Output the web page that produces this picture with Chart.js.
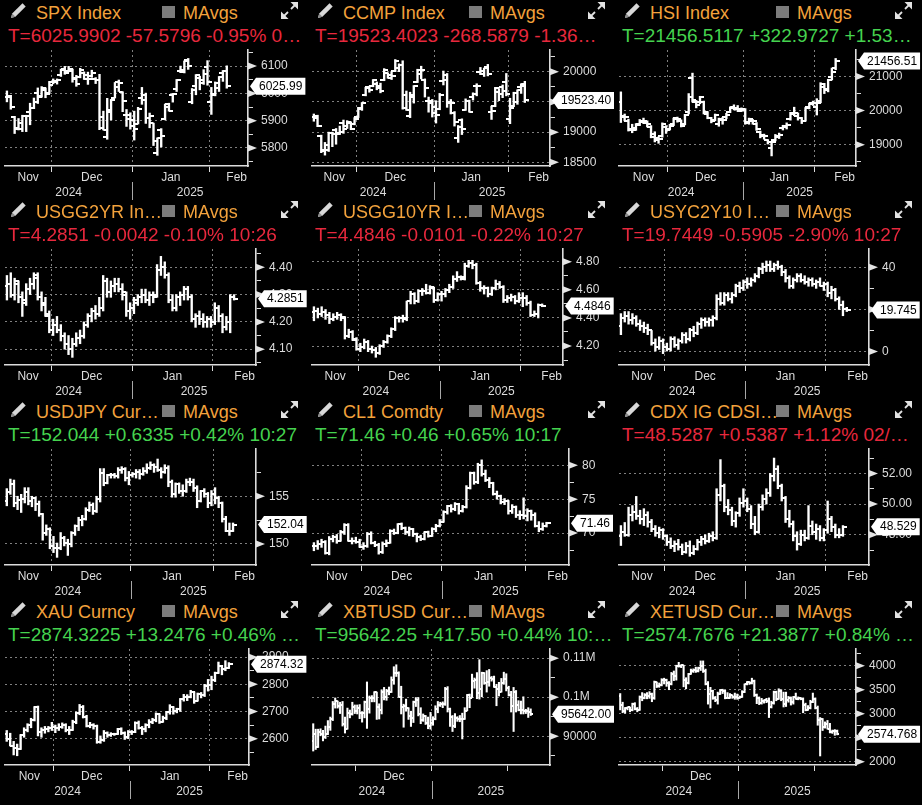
<!DOCTYPE html>
<html>
<head>
<meta charset="utf-8">
<script src="https://cdn.jsdelivr.net/npm/chart.js@4.4.1/dist/chart.umd.min.js"></script>
<style>
html, body { margin: 0; padding: 0; background: #000; width: 922px; height: 805px; overflow: hidden; font-family: "Liberation Sans", Arial, sans-serif; }
.panel { position: absolute; width: 307px; height: 200px; }
.pencil { position: absolute; left: 9px; top: 1px; }
.title { position: absolute; left: 36px; top: 2px; font-size: 18px; line-height: 22px; color: #f3a23c; white-space: nowrap; }
.sq { position: absolute; left: 162px; top: 6px; width: 13px; height: 12px; background: #7c7c7c; }
.mavg { position: absolute; left: 183px; top: 2px; font-size: 18px; line-height: 22px; color: #f3a23c; }
.expand { position: absolute; left: 280px; top: 1px; }
.quote { position: absolute; left: 8px; top: 24px; font-size: 19px; line-height: 23px; white-space: nowrap; }
.quote.dn { color: #e8283d; }
.quote.up { color: #45d34f; }
canvas { position: absolute; left: 0; top: 45px; }
</style>
</head>
<body>
<script>
// header texts
const titles = ['SPX Index', 'CCMP Index', 'HSI Index', 'USGG2YR In…', 'USGG10YR I…', 'USYC2Y10 I…',
  'USDJPY Cur…', 'CL1 Comdty', 'CDX IG CDSI…', 'XAU Curncy', 'XBTUSD Cur…', 'XETUSD Cur…'];
const quotes = ['T=6025.9902 -57.5796 -0.95% 0…', 'T=19523.4023 -268.5879 -1.36…', 'T=21456.5117 +322.9727 +1.53…',
  'T=4.2851 -0.0042 -0.10% 10:26', 'T=4.4846 -0.0101 -0.22% 10:27', 'T=19.7449 -0.5905 -2.90% 10:27',
  'T=152.044 +0.6335 +0.42% 10:27', 'T=71.46 +0.46 +0.65% 10:17', 'T=48.5287 +0.5387 +1.12% 02/…',
  'T=2874.3225 +13.2476 +0.46% …', 'T=95642.25 +417.50 +0.44% 10:…', 'T=2574.7676 +21.3877 +0.84% …'];
const quoteUp = [false, false, true, false, false, false, true, true, false, true, true, true];
const lastLabels = ['6025.99', '19523.40', '21456.51', '4.2851', '4.4846', '19.745', '152.04', '71.46', '48.529', '2874.32', '95642.00', '2574.768'];

// x axis: bars per month (Nov, Dec, Jan, Feb) and month labels
const monthCounts = [[12,21,20,5],[12,21,20,5],[13,20,19,6],[12,21,21,6],[12,21,21,6],[12,21,21,6],
  [13,22,23,6],[13,21,22,6],[12,21,21,5],[14,22,23,6],[18,31,31,10],[18,31,31,10]];
const stdMonths = ['Nov', 'Dec', 'Jan', 'Feb'];
const cryptoMonths = ['', 'Dec', '', ''];
const yearLabels = ['2024', '2025'];

// y axis ranges and ticks
const yMins = [5734, 18440, 18374, 4.042, 4.065, -6.4, 147.8, 65.3, 46.03, 2503, 82620, 1932];
const yMaxs = [6159, 20358, 21779, 4.467, 4.891, 48.7, 159.95, 82.4, 53.59, 2930, 112340, 4348];
const yMinor = [50, 250, 500, 0.05, 0.1, 10, 2.5, 2.5, 1, 50, 5000, 250];
const yMajor = [100, 500, 1000, 0.1, 0.2, 20, 5, 5, 2, 100, 10000, 500];
const yDec = [0, 0, 0, 2, 2, 0, 0, 0, 2, 0, 0, 0];

// OHLC bars [open, high, low, close]
const spxBars = [
[5985,6009,5969,5985],[5989,5993,5942,5949],[5913,5916,5853,5870],[5874,5908,5866,5893],[5870,5920,5860,5917],[5917,5920,5860,5917],[5931,5964,5885,5948],[5947,5983,5944,5969],[6000,6020,5963,5987],[5992,6025,5986,6021],[6014,6020,5984,5998],[6003,6044,6003,6032],
[6040,6053,6035,6047],[6042,6053,6034,6050],[6069,6089,6062,6086],[6089,6099,6070,6075],[6081,6099,6079,6090],[6083,6089,6041,6053],[6057,6066,6026,6034],[6060,6092,6057,6085],[6075,6079,6051,6051],[6068,6078,6033,6051],[6063,6085,6059,6074],[6052,6058,6036,6050],[6048,6070,5867,5872],[5913,5935,5866,5867],[5842,5982,5832,5931],[5941,5978,5903,5975],[5984,6040,5983,6040],[6024,6049,6007,6037],[6006,6006,5933,5971],[5920,5941,5879,5907],[5920,5929,5869,5882],
[5903,5935,5829,5869],[5888,5949,5888,5942],[5982,6022,5960,5975],[5994,6001,5890,5909],[5911,5928,5874,5918],[5890,5891,5809,5827],[5783,5837,5773,5836],[5865,5871,5804,5843],[5905,5961,5903,5950],[5962,5964,5935,5937],[5995,6000,5968,5997],[6015,6051,6007,6049],[6081,6100,6076,6086],[6077,6119,6075,6119],[6121,6128,6088,6101],[5969,6018,5962,6012],[6026,6069,5995,6068],[6058,6063,6013,6039],[6050,6087,6033,6071],[6096,6120,6030,6041],
[5969,6022,5923,5994],[5998,6042,5991,6037],[6021,6062,6007,6061],[6073,6084,6044,6083],[6083,6101,6019,6025.99]
];
const ccmpBars = [
[19250,19300,19180,19231],[19260,19280,19090,19107],[18930,18950,18660,18680],[18700,18830,18620,18791],[18700,19000,18680,18987],[18990,19000,18760,18966],[19030,19060,18800,18972],[18990,19100,18960,19003],[19150,19200,18980,19054],[19100,19190,19060,19175],[19150,19170,19040,19060],[19130,19240,19120,19218],
[19250,19410,19240,19403],[19380,19490,19360,19481],[19620,19740,19600,19735],[19740,19760,19660,19700],[19760,19870,19750,19860],[19800,19830,19700,19736],[19760,19810,19650,19687],[19860,20050,19850,20034],[19970,19980,19890,19902],[19950,20000,19870,19926],[20010,20200,20000,20173],[20060,20130,20000,20109],[20110,20180,19380,19393],[19620,19680,19360,19372],[19260,19660,19240,19573],[19610,19770,19480,19764],[19830,20040,19820,20031],[19960,20090,19880,20020],[19870,19880,19580,19722],[19510,19580,19330,19487],[19510,19540,19250,19311],
[19420,19520,19150,19280],[19380,19640,19370,19622],[19850,20010,19780,19865],[19940,19970,19410,19490],[19480,19540,19300,19479],[19310,19340,19100,19162],[18900,19110,18830,19088],[19200,19220,18960,19044],[19370,19550,19360,19511],[19520,19530,19330,19339],[19580,19650,19530,19630],[19760,19800,19600,19757],[20000,20070,19950,20009],[19960,20060,19920,20053],[20070,20120,19930,19954],[19340,19430,19210,19342],[19440,19740,19420,19734],[19660,19720,19520,19632],[19740,19780,19570,19681],[19830,19970,19600,19627],
[19220,19560,19140,19391],[19430,19660,19420,19654],[19500,19700,19460,19692],[19740,19800,19640,19791],[19770,19840,19490,19523.4]
];
const hsiBars = [
[20250,20550,19650,19846],[19800,19900,19700,19823],[19700,19750,19400,19435],[19450,19600,19350,19426],[19500,19620,19420,19576],[19620,19740,19560,19663],[19690,19780,19620,19705],[19650,19700,19520,19601],[19520,19560,19200,19230],[19320,19380,19080,19151],[19200,19230,19040,19159],[19250,19640,19220,19603],[19520,19560,19330,19424],
[19460,19600,19430,19550],[19600,19780,19560,19746],[19770,19810,19660,19742],[19700,19730,19520,19560],[19600,19890,19580,19865],[19950,20500,19900,20414],[20950,21100,20250,20311],[20240,20300,20080,20155],[20250,20420,20200,20397],[20250,20280,19900,19971],[19900,19970,19760,19796],[19780,19800,19640,19700],[19720,19900,19700,19864],[19600,19780,19540,19752],[19720,19800,19600,19720],[19800,19920,19760,19883],[19960,20110,19940,20098],[20080,20170,20020,20090],[20040,20150,19980,20041],[20000,20080,19970,20060],
[20010,20060,19600,19623],[19660,19780,19600,19760],[19700,19740,19600,19688],[19620,19650,19420,19447],[19360,19400,19200,19280],[19250,19310,19160,19240],[19130,19150,19020,19064],[18900,19090,18670,19086],[19150,19300,19110,19219],[19260,19340,19180,19286],[19500,19570,19430,19522],[19550,19640,19460,19584],[19750,19950,19720,19926],[19900,20100,19850,19925],[19850,19930,19720,19778],[19780,19800,19620,19700],[19700,20090,19690,20066],[20100,20220,20050,20197],[20210,20280,20150,20225],
[20100,20350,19870,20217],[20280,20820,20230,20790],[20680,20800,20500,20597],[20630,20920,20550,20891],[21000,21250,20900,21133],[21250,21530,21200,21456.51]
];
const usgg2Bars = [
[4.33,4.37,4.28,4.34],[4.34,4.38,4.29,4.30],[4.30,4.36,4.28,4.35],[4.34,4.35,4.27,4.29],[4.29,4.31,4.22,4.27],[4.28,4.34,4.26,4.32],[4.32,4.36,4.30,4.34],[4.34,4.38,4.32,4.37],[4.36,4.38,4.28,4.29],[4.29,4.31,4.24,4.27],[4.26,4.29,4.22,4.23],[4.22,4.24,4.16,4.17],
[4.17,4.21,4.15,4.19],[4.19,4.22,4.16,4.17],[4.17,4.19,4.13,4.15],[4.15,4.16,4.10,4.12],[4.12,4.15,4.08,4.10],[4.10,4.14,4.07,4.12],[4.12,4.16,4.11,4.14],[4.14,4.17,4.12,4.15],[4.15,4.20,4.14,4.19],[4.19,4.23,4.18,4.22],[4.22,4.25,4.20,4.24],[4.24,4.26,4.21,4.23],[4.23,4.29,4.22,4.25],[4.25,4.37,4.24,4.35],[4.35,4.36,4.29,4.31],[4.31,4.35,4.29,4.33],[4.33,4.36,4.31,4.34],[4.34,4.36,4.31,4.32],[4.32,4.34,4.28,4.31],[4.30,4.31,4.22,4.24],[4.24,4.27,4.21,4.25],
[4.25,4.29,4.23,4.28],[4.27,4.30,4.26,4.29],[4.29,4.32,4.27,4.30],[4.30,4.32,4.27,4.28],[4.28,4.31,4.26,4.30],[4.30,4.31,4.27,4.29],[4.30,4.41,4.29,4.39],[4.39,4.44,4.37,4.40],[4.40,4.42,4.36,4.37],[4.37,4.38,4.27,4.28],[4.28,4.30,4.24,4.25],[4.25,4.30,4.24,4.29],[4.29,4.31,4.26,4.30],[4.30,4.33,4.28,4.32],[4.32,4.33,4.28,4.29],[4.29,4.30,4.20,4.21],[4.21,4.23,4.18,4.22],[4.22,4.24,4.19,4.21],[4.21,4.23,4.18,4.20],[4.20,4.22,4.18,4.21],[4.21,4.22,4.18,4.20],
[4.20,4.27,4.19,4.25],[4.25,4.26,4.20,4.22],[4.22,4.23,4.16,4.18],[4.18,4.22,4.17,4.20],[4.20,4.30,4.16,4.29],[4.29,4.30,4.28,4.2851]
];
const usgg10Bars = [
[4.44,4.48,4.38,4.45],[4.45,4.47,4.40,4.43],[4.43,4.48,4.41,4.44],[4.44,4.46,4.39,4.42],[4.42,4.44,4.36,4.39],[4.39,4.43,4.38,4.41],[4.41,4.44,4.39,4.42],[4.42,4.43,4.38,4.41],[4.40,4.41,4.25,4.27],[4.27,4.32,4.26,4.30],[4.30,4.31,4.24,4.25],[4.24,4.26,4.17,4.18],
[4.18,4.22,4.16,4.19],[4.19,4.25,4.18,4.23],[4.23,4.24,4.16,4.18],[4.18,4.20,4.15,4.17],[4.17,4.19,4.12,4.15],[4.15,4.21,4.14,4.20],[4.20,4.24,4.19,4.23],[4.23,4.28,4.22,4.27],[4.27,4.33,4.26,4.32],[4.32,4.41,4.31,4.40],[4.40,4.41,4.37,4.40],[4.40,4.42,4.37,4.40],[4.39,4.52,4.38,4.52],[4.52,4.59,4.50,4.57],[4.57,4.58,4.50,4.52],[4.52,4.60,4.51,4.59],[4.59,4.61,4.56,4.59],[4.59,4.64,4.57,4.58],[4.58,4.63,4.57,4.62],[4.61,4.62,4.51,4.53],[4.53,4.58,4.52,4.57],
[4.57,4.59,4.52,4.57],[4.57,4.61,4.55,4.60],[4.60,4.64,4.58,4.62],[4.62,4.70,4.61,4.68],[4.68,4.73,4.66,4.69],[4.69,4.70,4.67,4.69],[4.68,4.79,4.67,4.77],[4.77,4.81,4.76,4.79],[4.79,4.81,4.75,4.78],[4.78,4.79,4.64,4.65],[4.65,4.66,4.59,4.61],[4.61,4.63,4.57,4.61],[4.61,4.62,4.55,4.57],[4.57,4.62,4.56,4.61],[4.61,4.67,4.60,4.64],[4.64,4.66,4.61,4.62],[4.62,4.63,4.51,4.53],[4.53,4.56,4.51,4.54],[4.54,4.57,4.52,4.55],[4.55,4.56,4.50,4.52],[4.52,4.58,4.51,4.54],
[4.54,4.58,4.48,4.54],[4.54,4.56,4.49,4.51],[4.51,4.52,4.41,4.42],[4.42,4.45,4.41,4.43],[4.43,4.50,4.40,4.49],[4.49,4.50,4.48,4.4846]
];
const usycBars = [
[12,18,8,16],[16,19,14,17],[17,19,13,15],[15,18,13,16],[16,17,12,13],[13,15,10,12],[12,14,9,11],[11,13,8,10],[10,10,3,4],[4,6,0,2],[2,7,1,5],[5,6,-1,2],
[2,4,0,1],[1,7,0,6],[6,7,2,3],[3,6,1,5],[5,9,4,8],[8,9,4,6],[6,11,5,10],[10,12,7,9],[9,14,8,13],[13,16,11,15],[15,16,12,14],[14,16,12,15],[15,17,12,16],[16,27,15,25],[25,28,22,23],[23,28,22,27],[27,28,24,25],[25,28,23,27],[27,32,26,31],[31,33,28,30],[30,34,29,33],
[33,35,30,32],[32,35,31,34],[34,37,33,36],[36,40,35,39],[39,42,37,40],[40,43,38,41],[41,43,38,39],[39,42,38,41],[41,43,39,40],[40,41,36,38],[38,39,33,35],[35,36,30,31],[31,35,30,34],[34,37,33,36],[36,37,33,34],[34,36,32,33],[33,35,31,34],[34,35,31,32],[32,34,30,33],[33,35,31,31],[31,33,29,32],
[32,33,26,28],[28,31,25,29],[29,30,24,25],[25,26,20,22],[22,24,17,20],[20,21,19,19.745]
];
const usdjpyBars = [
[154.5,155.8,154.0,155.4],[155.4,156.8,155.2,156.3],[156.3,156.7,153.9,154.3],[154.3,155.0,153.6,154.6],[154.6,155.2,153.3,154.7],[154.7,155.9,154.3,155.4],[155.4,155.9,154.1,154.5],[154.5,155.0,153.9,154.8],[154.8,154.9,153.5,154.2],[154.2,154.5,152.9,153.1],[153.1,153.2,150.4,151.1],[151.1,152.0,150.9,151.6],[151.6,151.7,149.5,149.8],
[149.8,150.8,149.1,149.6],[149.6,150.1,148.6,149.6],[149.6,151.2,149.4,150.6],[150.6,150.8,149.8,150.1],[150.1,150.5,148.8,150.0],[150.0,151.3,149.7,151.2],[151.2,152.0,150.9,151.9],[151.9,152.8,151.4,152.5],[152.5,153.0,151.9,152.6],[152.6,153.8,152.5,153.6],[153.6,154.4,153.4,154.1],[154.1,154.3,153.1,153.5],[153.5,155.0,153.3,154.7],[154.7,157.9,154.4,157.4],[157.4,157.9,156.1,156.4],[156.4,157.3,156.3,157.2],[157.2,157.4,156.9,157.2],[157.2,157.4,156.9,157.1],[157.1,158.0,156.9,157.8],[157.8,158.1,157.4,157.9],[157.9,158.0,156.6,156.9],[156.9,157.6,156.2,157.2],
[157.2,157.5,157.0,157.3],[157.3,157.8,156.9,157.5],[157.5,157.8,156.8,157.3],[157.3,158.0,157.2,157.6],[157.6,158.4,157.4,158.0],[158.0,158.6,157.8,158.3],[158.3,158.4,157.5,158.1],[158.1,158.9,157.6,157.7],[157.7,158.0,156.9,157.5],[157.5,158.3,157.4,158.0],[158.0,158.2,156.0,156.5],[156.5,156.7,154.9,155.2],[155.2,156.4,154.9,156.3],[156.3,156.4,155.3,155.6],[155.6,156.2,155.0,155.6],[155.6,156.8,155.4,156.5],[156.5,156.9,156.1,156.5],[156.5,156.8,155.5,155.9],[155.9,156.1,153.8,154.5],[154.5,155.6,154.4,155.5],[155.5,155.8,154.9,155.2],[155.2,155.4,153.8,154.3],[154.3,155.6,154.0,155.2],
[155.2,155.9,154.2,154.8],[154.8,155.0,153.8,154.3],[154.3,154.4,152.3,152.6],[152.6,152.9,151.3,151.4],[151.4,152.2,150.9,151.4],[151.4,152.2,151.3,152.04]
];
const cl1Bars = [
[68.1,68.6,67.4,68.1],[68.1,68.9,67.6,68.4],[68.4,69.1,67.9,68.7],[68.7,68.9,66.9,67.0],[67.0,69.5,66.8,69.2],[69.2,69.7,68.7,69.4],[69.4,69.8,68.5,68.9],[68.9,70.4,68.8,70.1],[70.1,71.4,69.8,71.2],[71.2,71.4,68.8,68.9],[68.9,69.3,68.4,68.8],[68.8,69.4,68.5,68.7],[68.7,69.1,67.9,68.0],
[68.0,68.6,67.6,68.1],[68.1,70.1,67.9,69.9],[69.9,70.2,68.4,68.5],[68.5,68.8,68.0,68.3],[68.3,68.5,66.9,67.2],[67.2,68.7,67.0,68.4],[68.4,69.0,68.0,68.6],[68.6,70.5,68.5,70.3],[70.3,70.6,69.8,70.0],[70.0,71.4,69.9,71.3],[71.3,71.5,70.5,70.7],[70.7,70.9,69.8,70.1],[70.1,70.9,69.6,70.6],[70.6,70.7,69.5,69.9],[69.9,70.0,68.7,69.5],[69.5,69.7,68.9,69.2],[69.2,70.2,69.0,70.1],[70.1,70.3,69.4,69.6],[69.6,70.8,69.5,70.6],[70.6,71.3,70.2,71.0],[71.0,72.0,70.9,71.7],
[71.7,73.3,71.6,73.1],[73.1,74.1,72.8,74.0],[74.0,74.2,73.1,73.6],[73.6,74.5,73.3,74.3],[74.3,74.4,72.8,73.3],[73.3,74.1,73.1,73.9],[73.9,77.0,73.7,76.6],[76.6,79.0,76.5,78.8],[78.8,79.0,77.2,77.5],[77.5,80.3,77.3,80.0],[80.0,80.8,78.4,78.7],[78.7,79.3,77.6,77.9],[77.9,78.2,76.7,77.4],[77.4,77.5,75.6,75.8],[75.8,76.2,75.0,75.4],[75.4,75.6,74.3,74.6],[74.6,75.1,74.2,74.7],[74.7,74.8,72.8,73.2],[73.2,74.2,72.9,73.8],[73.8,74.0,72.3,72.6],[72.6,73.3,72.0,72.7],[72.7,75.2,72.1,72.5],
[72.5,73.6,71.8,73.2],[73.2,73.4,71.9,72.7],[72.7,73.0,70.9,71.0],[71.0,71.7,70.2,70.6],[70.6,71.5,70.4,71.0],[71.0,71.6,70.9,71.46]
];
const cdxBars = [
[47.9,48.6,47.3,48.2],[48.2,48.8,47.9,48.0],[48.0,49.8,47.9,49.3],[49.3,49.9,48.9,49.5],[49.5,50.5,49.0,49.2],[49.2,49.6,48.7,49.0],[49.0,49.7,48.6,49.3],[49.3,49.5,48.5,48.8],[48.8,49.0,48.2,48.4],[48.4,48.6,47.9,48.1],[48.1,48.5,47.8,48.3],[48.3,48.4,47.7,47.9],
[47.9,48.0,47.3,47.5],[47.5,47.8,47.1,47.3],[47.3,47.6,46.9,47.4],[47.4,47.7,47.0,47.2],[47.2,47.4,46.7,46.9],[46.9,47.5,46.8,47.3],[47.3,47.6,46.6,46.8],[46.8,47.3,46.7,47.1],[47.1,47.7,47.0,47.5],[47.5,47.9,47.3,47.7],[47.7,48.0,47.4,47.6],[47.6,48.1,47.5,47.9],[47.9,48.2,47.6,47.8],[47.8,51.0,47.7,50.6],[50.6,52.9,50.2,51.2],[51.2,51.3,49.5,49.8],[49.8,50.3,49.3,49.6],[49.6,49.8,48.6,48.9],[48.9,49.5,48.5,49.4],[49.4,50.4,49.2,50.1],[50.1,51.0,49.8,50.2],
[50.2,50.4,49.5,49.7],[49.7,49.9,48.4,48.7],[48.7,49.2,48.0,48.2],[48.2,50.0,48.1,49.8],[49.8,50.6,49.6,50.3],[50.3,51.0,50.0,50.7],[50.7,52.0,50.5,51.8],[51.8,53.0,51.5,52.3],[52.3,52.5,51.0,51.2],[51.2,51.3,50.2,50.4],[50.4,50.5,48.8,49.0],[49.0,49.6,48.5,48.7],[48.7,48.9,47.6,47.9],[47.9,48.2,47.0,47.4],[47.4,48.3,47.3,48.0],[48.0,48.3,47.6,47.8],[47.8,49.9,47.7,48.6],[48.6,48.9,48.0,48.2],[48.2,48.7,47.7,48.4],[48.4,48.6,47.6,47.8],[47.8,48.4,47.6,48.3],
[48.3,50.2,48.1,49.0],[49.0,49.2,48.2,48.5],[48.5,48.7,47.8,48.0],[48.0,48.4,47.8,47.99],[47.99,48.6,47.9,48.529]
];
const xauBars = [
[2617,2630,2590,2598],[2598,2620,2573,2573],[2573,2590,2540,2565],[2565,2580,2537,2563],[2563,2615,2560,2612],[2612,2640,2605,2631],[2631,2655,2625,2650],[2650,2675,2640,2670],[2670,2718,2665,2715],[2715,2720,2610,2626],[2626,2640,2605,2633],[2633,2645,2620,2637],[2637,2645,2625,2640],[2640,2660,2630,2643],
[2643,2650,2622,2640],[2640,2655,2630,2643],[2643,2658,2638,2650],[2650,2655,2625,2632],[2632,2645,2615,2633],[2633,2668,2630,2660],[2660,2698,2655,2694],[2694,2726,2688,2718],[2718,2722,2676,2681],[2681,2686,2643,2648],[2648,2660,2640,2652],[2652,2655,2635,2646],[2646,2650,2583,2587],[2587,2610,2583,2594],[2594,2630,2590,2622],[2622,2625,2605,2613],[2613,2622,2608,2617],[2617,2620,2612,2617],[2617,2638,2615,2634],[2634,2640,2615,2621],[2621,2625,2597,2607],[2607,2630,2600,2624],
[2624,2630,2615,2625],[2625,2662,2622,2657],[2657,2665,2635,2640],[2640,2645,2615,2635],[2635,2655,2625,2649],[2649,2670,2640,2662],[2662,2675,2655,2670],[2670,2695,2662,2689],[2689,2692,2656,2663],[2663,2683,2660,2677],[2677,2700,2670,2697],[2697,2725,2690,2715],[2715,2718,2690,2702],[2702,2712,2695,2708],[2708,2748,2700,2745],[2745,2763,2738,2755],[2755,2762,2740,2754],[2754,2778,2750,2770],[2770,2772,2730,2740],[2740,2768,2738,2763],[2763,2770,2750,2759],[2759,2800,2755,2794],[2794,2818,2775,2798],
[2798,2830,2780,2815],[2815,2845,2810,2843],[2843,2882,2840,2867],[2867,2870,2835,2856],[2856,2887,2850,2861],[2861,2880,2858,2874.32]
];
const xbtBars = [
[88700,93200,86200,90500],[90500,91800,86600,87300],[87300,91800,87100,91000],[91000,91900,90100,90600],[90600,91500,88800,89800],[89800,92600,89400,90500],[90500,94000,90400,92300],[92300,94900,91500,94300],[94300,98900,94000,98300],[98300,99800,97200,98900],[98900,99000,97200,97700],[97700,98700,95800,98000],[98000,98900,92600,93000],[93000,94900,90800,91900],[91900,97200,91800,95900],[95900,96700,94700,95600],[95600,98700,95400,97500],[97500,98000,95800,96400],
[96400,98000,95700,97200],[97200,98100,94500,95900],[95900,96300,93600,96000],[96000,99000,94700,98800],[98800,103900,92000,97000],[97000,100300,95900,99900],[99900,100400,98800,99900],[99900,101400,98800,101200],[101200,101300,94300,97400],[97400,98300,94400,96700],[96700,101900,95700,101200],[101200,102500,99300,100000],[100000,102000,99200,101500],[101500,102600,100600,101400],[101400,105200,101200,104300],[104300,107800,103300,106100],[106100,108300,105300,106100],[106100,106500,100000,100000],[100000,102800,95700,97500],[97500,98200,92300,97800],[97800,99500,96400,97200],[97200,97300,94300,95100],[95100,96400,92500,94700],[94700,99000,93500,98700],[98700,99900,97600,99400],[99400,99900,95200,95800],[95800,97300,93200,94200],[94200,95700,93800,95200],[95200,95300,93000,93500],[93500,94900,91900,92600],[92600,96100,91800,93400],
[93400,95000,92800,94400],[94400,97800,94200,96900],[96900,98900,96000,98100],[98100,98700,97600,98200],[98200,98800,97300,98300],[98300,102500,97900,102100],[102100,102700,96200,96900],[96900,97200,92500,95000],[95000,95300,91200,92500],[92500,95800,92200,94700],[94700,95000,93800,94500],[94500,95300,93700,94500],[94500,95900,89300,94500],[94500,97300,94300,96500],[96500,100700,96500,100500],[100500,100800,97300,99900],[99900,105900,99900,104100],[104100,104900,102300,104500],[104500,106300,99600,101100],[101100,109600,99500,102000],[102000,106400,100100,106100],[106100,106300,103300,103700],[103700,106800,101300,104000],[104000,107100,102800,104800],[104800,105300,104100,104700],[104700,105400,102500,102600],[102600,103300,97800,102100],[102100,103800,100300,101300],[101300,104800,101300,103700],[103700,106400,103300,104700],[104700,106000,101600,102400],
[102400,102800,100300,100600],[100600,101500,96200,97700],[97700,102500,91200,101400],[101400,101700,96200,97900],[97900,99100,96500,96600],[96600,99000,95700,96600],[96600,100100,95700,96500],[96500,96900,95800,96400],[96400,97300,94800,96300],[96300,97000,95300,95642]
];
const xetBars = [
[3370,3420,3080,3180],[3180,3240,3020,3060],[3060,3130,3010,3120],[3120,3140,3080,3130],[3130,3140,3040,3075],[3075,3220,3060,3210],[3210,3230,3080,3100],[3100,3130,3040,3075],[3075,3370,3070,3355],[3355,3440,3270,3325],[3325,3420,3310,3390],[3390,3440,3310,3360],[3360,3460,3320,3415],[3415,3430,3250,3325],[3325,3680,3300,3655],[3655,3660,3545,3585],[3585,3640,3550,3590],[3590,3730,3580,3705],
[3705,3740,3620,3710],[3710,3720,3570,3640],[3640,3670,3500,3615],[3615,3860,3600,3835],[3835,3890,3690,3785],[3785,4010,3700,4000],[4000,4070,3970,3995],[3995,4020,3960,4005],[4005,4010,3560,3710],[3710,3750,3520,3630],[3630,3840,3620,3830],[3830,3930,3820,3880],[3880,3935,3860,3905],[3905,3970,3860,3880],[3880,3970,3870,3960],[3960,4100,3900,3985],[3985,4100,3860,3880],[3880,3930,3600,3625],[3625,3670,3200,3415],[3415,3550,3120,3470],[3470,3490,3300,3330],[3330,3360,3250,3285],[3285,3450,3200,3420],[3420,3500,3400,3490],[3490,3510,3420,3480],[3480,3490,3310,3335],[3335,3440,3320,3330],[3330,3420,3320,3385],[3385,3390,3320,3355],[3355,3430,3300,3355],[3355,3410,3300,3335],
[3335,3370,3320,3355],[3355,3480,3340,3450],[3450,3620,3440,3610],[3610,3670,3600,3655],[3655,3670,3610,3635],[3635,3740,3620,3690],[3690,3700,3360,3380],[3380,3410,3210,3325],[3325,3350,3190,3220],[3220,3320,3200,3265],[3265,3290,3220,3280],[3280,3320,3230,3265],[3265,3330,2920,3135],[3135,3260,3120,3225],[3225,3470,3200,3450],[3450,3470,3270,3310],[3310,3520,3300,3475],[3475,3500,3270,3310],[3310,3450,3140,3210],[3210,3450,3150,3280],[3280,3360,3240,3330],[3330,3350,3180,3240],[3240,3360,3200,3340],[3340,3430,3300,3310],[3310,3350,3290,3320],[3320,3340,3290,3310],[3310,3330,3020,3180],[3180,3220,3060,3080],[3080,3170,3070,3110],[3110,3280,3100,3250],[3250,3430,3230,3300],
[3300,3330,3100,3120],[3120,3160,2760,2870],[2870,2920,2120,2880],[2880,2900,2650,2730],[2730,2830,2700,2785],[2785,2860,2680,2685],[2685,2800,2600,2620],[2620,2660,2590,2630],[2630,2670,2550,2630],[2630,2660,2560,2574.768]
];
const allBars = [spxBars, ccmpBars, hsiBars, usgg2Bars, usgg10Bars, usycBars, usdjpyBars, cl1Bars, cdxBars, xauBars, xbtBars, xetBars];

// layout per panel: y axis line x, empty bars right of the last one
const axisX = [248, 243, 242, 256, 256, 255, 256, 262, 255, 249, 243, 242];
const padRight = [5.5, 6.8, 5.4, 5.7, 5.4, 5.8, 6.4, 5.9, 6.8, 5.8, 7.9, 7.7];
const W = 307, H = 155, PLOT_TOP = 3, PLOT_BOTTOM = 121;
const rowTops = [0, 199, 399, 599];
const colLefts = [0, 307, 614];
const FONT = '"Liberation Sans", Arial, sans-serif';
const AXIS_COLOR = '#dcdcdc', GRID_COLOR = '#808080';

Chart.defaults.font.family = FONT;

function tickImage(side, len) {
    const c = document.createElement('canvas');
    c.width = len * 2;
    c.height = 2;
    const g = c.getContext('2d');
    g.fillStyle = '#fff';
    g.fillRect(side < 0 ? 0 : len, 0, len, 2);
    return c;
}

const pencilSvg = '<svg class="pencil" width="19" height="19" viewBox="0 0 19 19"><path d="M2 17 L3.2 12.6 L13.5 2.3 L16.7 5.5 L6.4 15.8 Z" fill="#d8d8d8"/><path d="M2 17 L3.2 12.6 L6.4 15.8 Z" fill="#8c8c8c"/></svg>';
const expandSvg = '<svg class="expand" width="19" height="19" viewBox="0 0 19 19"><g stroke="#e2e2e2" stroke-width="1.8"><line x1="11" y1="8" x2="15" y2="4"/><line x1="8" y1="11" x2="4" y2="15"/></g><g fill="#e2e2e2"><polygon points="18,1 18,8.5 10.5,1"/><polygon points="1,18 1,10.5 8.5,18"/></g></svg>';

function makeChart(canvas, i) {
    const bars = allBars[i];
    const n = bars.length;
    const counts = monthCounts[i];
    const b1 = counts[0] - 0.5, b2 = b1 + counts[1], b3 = b2 + counts[2];
    const bounds = [b1, b2, b3];
    const crypto = i >= 10;
    const months = crypto ? cryptoMonths : stdMonths;
    const dashed = crypto ? [false, true, false] : [true, true, true];
    const major = yMajor[i], minor = yMinor[i];
    const isMajor = v => Math.abs(v / major - Math.round(v / major)) < 1e-6;
    const fmt = v => {
        if (i === 10 && v >= 100000) return (v / 1e6) + 'M';
        return v.toFixed(yDec[i]);
    };
    const tickLen = crypto ? 2 : 4;
    const last = bars[n - 1][3];

    const overlay = {
        id: 'bbgOverlay',
        afterDraw(chart) {
            const { ctx, chartArea: a, scales: { x, y } } = chart;
            ctx.save();
            // arrows on the labelled y ticks
            ctx.fillStyle = '#e4e4e4';
            y.ticks.forEach(t => {
                if (!isMajor(t.value)) return;
                const py = y.getPixelForValue(t.value);
                ctx.beginPath();
                ctx.moveTo(a.right, py - 3.5);
                ctx.lineTo(a.right + 9, py);
                ctx.lineTo(a.right, py + 3.5);
                ctx.closePath();
                ctx.fill();
            });
            // month labels
            ctx.font = '12px ' + FONT;
            ctx.fillStyle = AXIS_COLOR;
            ctx.textAlign = 'center';
            ctx.textBaseline = 'middle';
            months.forEach((m, k) => {
                if (!m) return;
                let cx;
                if (k === months.length - 1) {
                    cx = a.right - ctx.measureText(m).width / 2 - 1;
                } else {
                    const l = k === 0 ? a.left : x.getPixelForValue(bounds[k - 1]);
                    cx = (l + x.getPixelForValue(bounds[k])) / 2;
                }
                ctx.fillText(m, cx, a.bottom + 12);
            });
            // years and separator
            const sep = x.getPixelForValue(bounds[1]);
            ctx.fillText(yearLabels[0], (a.left + sep) / 2, a.bottom + 27);
            ctx.fillText(yearLabels[1], (sep + a.right) / 2, a.bottom + 27);
            ctx.strokeStyle = '#a8a8a8';
            ctx.lineWidth = 1;
            ctx.beginPath();
            ctx.moveTo(Math.round(sep) + 0.5, a.bottom + 16);
            ctx.lineTo(Math.round(sep) + 0.5, chart.height);
            ctx.stroke();
            // last value tag
            const py = y.getPixelForValue(last);
            const label = lastLabels[i];
            const tw = ctx.measureText(label).width;
            const x0 = a.right + 2, x1 = x0 + 6, x2 = x1 + tw + 6, h = 8.5;
            ctx.fillStyle = '#fff';
            ctx.beginPath();
            ctx.moveTo(x0, py);
            ctx.lineTo(x1, py - h);
            ctx.lineTo(x2, py - h);
            ctx.lineTo(x2, py + h);
            ctx.lineTo(x1, py + h);
            ctx.closePath();
            ctx.fill();
            ctx.fillStyle = '#000';
            ctx.textAlign = 'left';
            ctx.fillText(label, x1 + 3, py + 0.5);
            ctx.restore();
        }
    };

    new Chart(canvas, {
        type: 'bar',
        data: {
            datasets: [
                {
                    type: 'bar',
                    data: bars.map((b, k) => ({ x: k, y: [b[2], b[1]] })),
                    backgroundColor: '#fff',
                    borderWidth: 0,
                    barThickness: crypto ? 1.4 : 1.7,
                    minBarLength: 1
                },
                {
                    type: 'scatter',
                    data: bars.map((b, k) => ({ x: k, y: b[0] })),
                    pointStyle: tickImage(-1, tickLen),
                    pointRadius: 2
                },
                {
                    type: 'scatter',
                    data: bars.map((b, k) => ({ x: k, y: b[3] })),
                    pointStyle: tickImage(1, tickLen),
                    pointRadius: 2
                }
            ]
        },
        options: {
            responsive: false,
            animation: false,
            devicePixelRatio: 1,
            events: [],
            layout: { padding: { left: 3, top: PLOT_TOP, right: 0, bottom: 0 } },
            plugins: { legend: { display: false }, tooltip: { enabled: false } },
            scales: {
                x: {
                    type: 'linear',
                    offset: false,
                    min: -0.5,
                    max: n - 1 + padRight[i],
                    afterBuildTicks: s => { s.ticks = bounds.map(v => ({ value: v })); },
                    afterFit: s => { s.height = H - PLOT_BOTTOM; s.paddingLeft = 0; s.paddingRight = 0; },
                    ticks: { display: false },
                    grid: {
                        offset: false,
                        color: c => dashed[c.index] ? GRID_COLOR : 'rgba(0,0,0,0)',
                        tickColor: AXIS_COLOR,
                        tickLength: 6,
                        lineWidth: 1
                    },
                    border: { display: true, color: AXIS_COLOR, width: 1.6, dash: [2, 3] }
                },
                y: {
                    position: 'right',
                    min: yMins[i],
                    max: yMaxs[i],
                    afterBuildTicks: s => {
                        const t = [];
                        for (let k = Math.ceil(s.min / minor - 1e-9); k * minor <= s.max + 1e-9; k++) {
                            t.push({ value: +(k * minor).toFixed(6) });
                        }
                        s.ticks = t;
                    },
                    afterFit: s => { s.width = W - axisX[i]; s.paddingTop = 0; s.paddingBottom = 0; },
                    ticks: {
                        autoSkip: false,
                        color: AXIS_COLOR,
                        padding: 8,
                        font: { size: 12 },
                        callback: v => isMajor(v) ? fmt(v) : ''
                    },
                    grid: {
                        color: c => (c.tick && isMajor(c.tick.value)) ? GRID_COLOR : 'rgba(0,0,0,0)',
                        tickColor: AXIS_COLOR,
                        tickLength: 5,
                        lineWidth: 1
                    },
                    border: { display: true, color: AXIS_COLOR, width: 1.6, dash: [2, 3] }
                }
            }
        },
        plugins: [overlay]
    });
}

allBars.forEach((bars, i) => {
    const div = document.createElement('div');
    div.className = 'panel';
    div.style.left = colLefts[i % 3] + 'px';
    div.style.top = rowTops[Math.floor(i / 3)] + 'px';
    div.innerHTML = pencilSvg +
        '<span class="title">' + titles[i] + '</span>' +
        '<span class="sq"></span><span class="mavg">MAvgs</span>' + expandSvg +
        '<span class="quote ' + (quoteUp[i] ? 'up' : 'dn') + '">' + quotes[i] + '</span>' +
        '<canvas width="' + W + '" height="' + H + '"></canvas>';
    document.body.appendChild(div);
    makeChart(div.querySelector('canvas'), i);
});
</script>
</body>
</html>
